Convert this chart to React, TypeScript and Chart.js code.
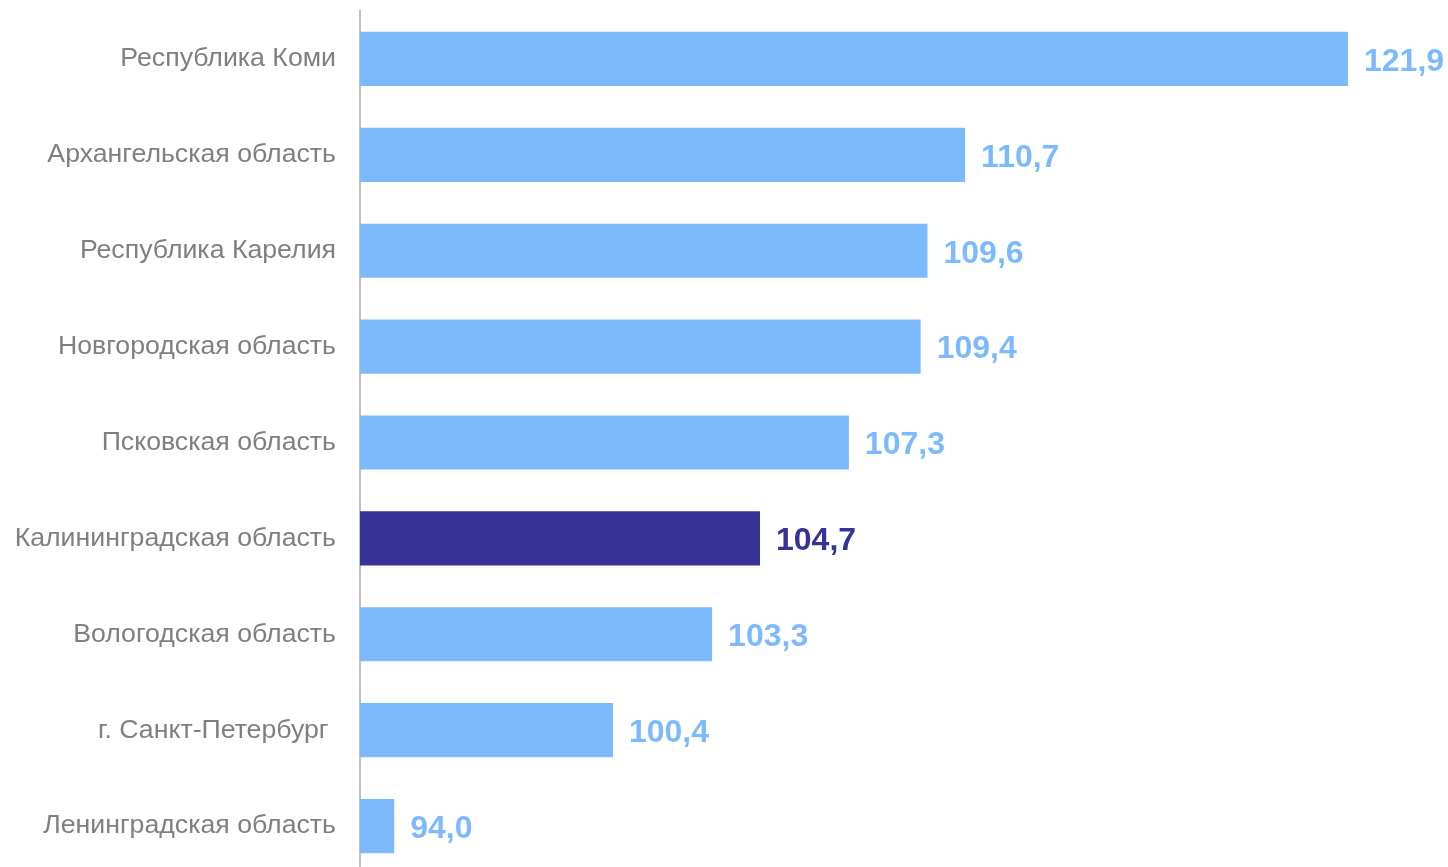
import React, { useEffect, useRef } from "react";
import { Chart, registerables } from "chart.js";

Chart.register(...registerables);

const categories = [
  "Республика Коми",
  "Архангельская область",
  "Республика Карелия",
  "Новгородская область",
  "Псковская область",
  "Калининградская область",
  "Вологодская область",
  "г. Санкт-Петербург ",
  "Ленинградская область",
];
const values = [121.9, 110.7, 109.6, 109.4, 107.3, 104.7, 103.3, 100.4, 94.0];
const highlightIndex = 5;

const LIGHT = "#7dbafd";
const DARK = "#373396";

const valueLabels = {
  id: "valueLabels",
  afterDatasetsDraw(chart: any) {
    const ctx = chart.ctx;
    const meta = chart.getDatasetMeta(0);
    ctx.save();
    ctx.font = "bold 32px 'Liberation Sans', Arial, sans-serif";
    ctx.textAlign = "left";
    ctx.textBaseline = "middle";
    meta.data.forEach((bar: any, i: number) => {
      ctx.fillStyle = i === highlightIndex ? DARK : LIGHT;
      ctx.fillText(values[i].toFixed(1).replace(".", ","), bar.x + 16, bar.y + 3);
    });
    ctx.restore();
  },
};

export default function App() {
  const ref = useRef<HTMLCanvasElement>(null);
  useEffect(() => {
    document.body.style.margin = "0";
    document.body.style.overflow = "hidden";
    const chart = new Chart(ref.current!, {
      type: "bar",
      data: {
        labels: categories,
        datasets: [
          {
            data: values,
            backgroundColor: values.map((_, i) => (i === highlightIndex ? DARK : LIGHT)),
            barPercentage: 1,
            categoryPercentage: 0.565,
            borderWidth: 0,
          },
        ],
      },
      options: {
        indexAxis: "y",
        animation: false,
        responsive: false,
        layout: { padding: { top: 11, bottom: 1, right: 100, left: 0 } },
        plugins: { legend: { display: false }, tooltip: { enabled: false } },
        scales: {
          x: { display: false, min: 93, max: 121.9 },
          y: {
            grid: { display: false, drawTicks: false },
            border: { display: true, color: "#c0c0c0", width: 2 },
            ticks: {
              color: "#7f7f7f",
              padding: 24,
              font: { family: "'Liberation Sans', Arial, sans-serif", size: 26.7 },
            },
            afterFit(scale: any) {
              scale.width = 360;
              scale.paddingTop = 0;
              scale.paddingBottom = 0;
            },
          },
        },
      },
      plugins: [valueLabels],
    });
    return () => chart.destroy();
  }, []);
  return <canvas ref={ref} width={1448} height={875} style={{ display: "block" }} />;
}
